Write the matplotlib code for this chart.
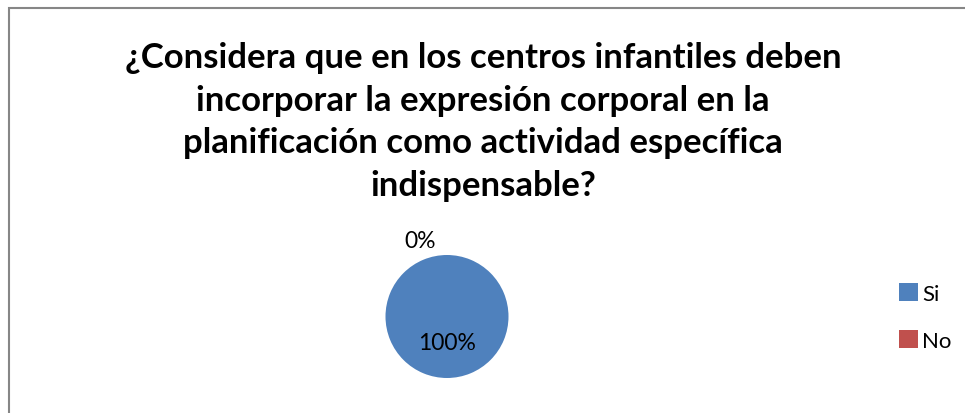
import matplotlib
matplotlib.use("Agg")
import matplotlib.pyplot as plt
from matplotlib.patches import Rectangle

W, H, DPI = 965, 414, 100

title = ("¿Considera que en los centros infantiles deben\n"
         "incorporar la expresión corporal en la\n"
         "planificación como actividad específica\n"
         "indispensable?")
categories = ["Si", "No"]
values = [100, 0]
colors = ["#4F81BD", "#C0504D"]

plt.rcParams["font.family"] = ["Lato", "DejaVu Sans"]

fig = plt.figure(figsize=(W / DPI, H / DPI), dpi=DPI)

# chart border (only top and left edges show in the frame)
fig.patches.append(Rectangle((8.5 / W, -0.1), 1.2, 1.1 - 8.5 / H,
                             transform=fig.transFigure, fill=False,
                             edgecolor="#868686", linewidth=1.5))

fig.text(483 / W, 1 - 122 / H, title, ha="center", va="center",
         fontsize=25, fontweight="bold", linespacing=1.4)

# pie axes: center (447, 317.5), radius 61.5 px
r = 61.5
size = 3 * r
ax = fig.add_axes([(447 - size / 2) / W, (H - 317.5 - size / 2) / H, size / W, size / H])
wedges, _ = ax.pie(values, colors=colors, startangle=90, counterclock=False,
                   radius=1)
ax.set_xlim(-1.5, 1.5)
ax.set_ylim(-1.5, 1.5)
ax.set_aspect("equal")
ax.axis("off")

total = sum(values)
label_pos = [(0, -0.43), (-0.44, 1.23)]
for v, (x, y) in zip(values, label_pos):
    ax.text(x, y, f"{v / total:.0%}", ha="center", va="center", fontsize=16.5)

fig.legend(wedges, categories, loc="center left",
           bbox_to_anchor=(899 / W, 1 - 318 / H), frameon=False,
           fontsize=16, handlelength=0.85, handleheight=0.85,
           handletextpad=0.2, labelspacing=1.2, borderpad=0,
           borderaxespad=0)

fig.savefig("out.png", dpi=DPI)
